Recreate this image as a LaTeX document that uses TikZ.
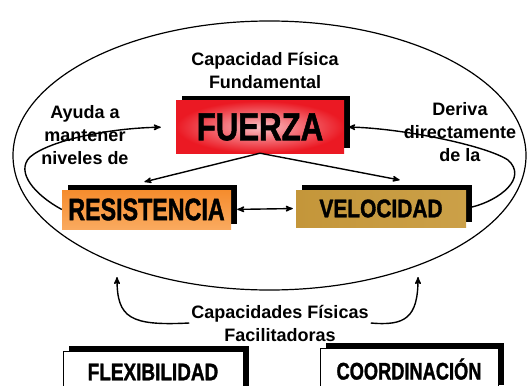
\documentclass[tikz,border=0pt]{standalone}
\usepackage{fontspec}
\setmainfont{Liberation Sans}
\newfontfamily\gruesa{Liberation Sans Bold}[FakeBold=1.6]
\usepackage{graphicx}
\usetikzlibrary{arrows}
\usetikzlibrary{shadows}
\definecolor{rojoF}{RGB}{235,25,35}
\definecolor{rosaF}{RGB}{250,190,195}
\definecolor{naranjaR}{RGB}{245,140,45}
\definecolor{naranjaC}{RGB}{250,170,95}
\definecolor{oroO}{RGB}{196,150,58}
\definecolor{oroC}{RGB}{232,200,128}
\newcommand{\tNarrow}[3]{\scalebox{#1}[1]{\fontsize{#2}{#2}\selectfont #3}}

\begin{document}
\begin{tikzpicture}[x=1pt,y=-1pt,>=stealth',
		caja/.style={rectangle,inner sep=0pt,font=\gruesa,
			drop shadow={shadow xshift=6pt,shadow yshift=5pt,fill=black,opacity=1}},
		etiqueta/.style={align=center,inner sep=2pt,font=\bfseries\fontsize{18}{23}\selectfont},
		flecha/.style={line width=1.4pt}]
		\useasboundingbox (0,0) rectangle (529,385);
		\draw[line width=1.2pt] (269.5,155.5) ellipse [x radius=256.5, y radius=134.5];

		\node[caja,minimum width=168pt,minimum height=52pt,inner color=rosaF,outer color=rojoF]
			(fuerza) at (260,127) {\tNarrow{0.8}{39}{FUERZA}};
		\node[caja,minimum width=169pt,minimum height=39pt,top color=naranjaR,bottom color=naranjaC]
			(resist) at (146.5,209.5) {\tNarrow{0.75}{31}{RESISTENCIA}};
		\node[caja,minimum width=170pt,minimum height=37pt,left color=oroO,middle color=oroC,right color=oroO!80!oroC]
			(veloc) at (381,208.5) {\tNarrow{0.82}{25.5}{VELOCIDAD}};
		\node[caja,draw=black,thin,fill=white,minimum width=180pt,minimum height=42pt]
			(flex) at (153,372) {\tNarrow{0.79}{24}{FLEXIBILIDAD}};
		\node[caja,draw=black,thin,fill=white,minimum width=178pt,minimum height=42pt]
			(coord) at (409,369) {\tNarrow{0.76}{24}{COORDINACIÓN}};

		\node[etiqueta] (fundam) at (265,70) {Capacidad Física\\Fundamental};
		\node[etiqueta] (ayuda)  at (85,135) {Ayuda a\\mantener\\niveles de};
		\node[etiqueta] (deriva) at (460,132) {Deriva\\directamente\\de la};
		\node[etiqueta] (facil)  at (280,323) {Capacidades Físicas\\Facilitadoras};
		\coordinate (izq) at (117,277);
		\coordinate (der) at (418,277);

		\path[flecha,->]
		(fuerza.south) edge[shorten >=33pt] (resist.150)
		(fuerza.south) edge[shorten >=52pt] (veloc.15)
		(resist.east) edge[<->,shorten <=6pt,shorten >=3pt] (veloc.west);

		\draw[flecha,->,shorten >=15pt] (resist.west) .. controls (35,195) and (15,172) .. (30,157)
			.. controls (50,140) and (110,128) .. (fuerza.west);
		\draw[flecha,->,shorten <=6pt,shorten >=4pt] (veloc.east) .. controls (500,200) and (528,178) .. (508,160)
			.. controls (485,145) and (400,128) .. (fuerza.east);
		\draw[flecha,->] (facil.west) .. controls (130,326) and (117,318) .. (izq);
		\draw[flecha,->] (facil.east) .. controls (405,326) and (418,318) .. (der);
\end{tikzpicture}
\end{document}
